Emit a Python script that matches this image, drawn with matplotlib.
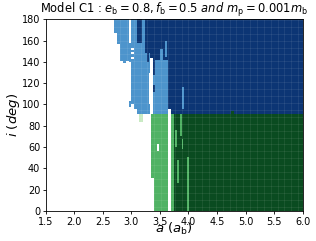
import numpy as np
import matplotlib
matplotlib.use('Agg')
import matplotlib.pyplot as plt
from matplotlib.colors import ListedColormap, BoundaryNorm

# stability map as (a_lo, a_hi, i_lo, i_hi) boxes
# codes: 0 unstable, 1 light blue, 2 dark blue, 3 light green, 4 dark green, 5 pale green
a_dark_blue = 3.38      # retrograde side is dark blue beyond this
a_dark_green = 3.70     # prograde side is dark green beyond this
i_split = 91.5

light_blue_cells = [
    (2.70, 2.95, 167, 180), (2.75, 2.95, 157, 167), (2.80, 2.95, 141, 157),
    (2.85, 2.90, 139, 141),
    (2.95, 3.00, 140, 158), (2.95, 3.00, 98, 103),
    (3.00, 3.33, 100, 180), (3.05, 3.33, 96, 100), (3.10, 3.33, 91.5, 96),
    (3.38, 3.64, 91.5, 128), (3.42, 3.64, 128, 142),
    (3.50, 3.55, 142, 152), (3.58, 3.63, 145, 160), (3.88, 3.92, 96, 116),
]
dark_blue_cells = [
    (3.10, 3.19, 158, 180), (3.23, 3.33, 148, 180), (3.33, 3.38, 144, 180),
    (3.27, 3.31, 140, 148), (3.38, 3.42, 112, 118),
]
white_cells = [
    (3.00, 3.05, 143, 145), (3.00, 3.05, 147.5, 149), (3.00, 3.05, 151.5, 153),
    (3.33, 3.38, 91.5, 144), (3.31, 3.33, 100, 130),
    (3.64, 3.70, 91.5, 96), (3.45, 3.49, 56, 63),
]
light_green_cells = [
    (3.35, 3.64, 31, 91.5), (3.40, 3.64, 0, 31), (3.70, 3.75, 0, 91.5),
    (3.77, 3.80, 60, 76), (3.80, 3.83, 26, 48), (3.86, 3.89, 70, 91),
    (3.88, 3.91, 58, 68), (3.97, 4.01, 0, 51),
]
pale_green_cells = [(3.14, 3.20, 84, 91)]
dark_green_cells = [(4.75, 4.80, 91.5, 94)]

colors = ['white', '#4d94cc', '#0c3574', '#50b264', '#0a4b20', '#c8eac2']

a_edges = np.arange(1.5, 6.0 + 1e-9, 0.01)
i_edges = np.arange(0, 181, 1.0)
a_mid = 0.5 * (a_edges[1:] + a_edges[:-1])
i_mid = 0.5 * (i_edges[1:] + i_edges[:-1])
A, I = np.meshgrid(a_mid, i_mid)

grid = np.zeros(A.shape)
grid[(A >= a_dark_blue) & (I >= i_split)] = 2
grid[(A >= a_dark_green) & (I < i_split)] = 4


def paint(cells, code):
    for a0, a1, i0, i1 in cells:
        grid[(A >= a0) & (A < a1) & (I >= i0) & (I < i1)] = code


paint(light_blue_cells, 1)
paint(dark_blue_cells, 2)
paint(light_green_cells, 3)
paint(pale_green_cells, 5)
paint(white_cells, 0)
paint(dark_green_cells, 4)

fig = plt.figure(figsize=(3.16, 2.41), dpi=100)
ax = fig.add_axes([0.1446, 0.1245, 0.8134, 0.7955])
cmap = ListedColormap(colors)
norm = BoundaryNorm(np.arange(-0.5, 6.5, 1), cmap.N)
ax.pcolormesh(a_edges, i_edges, grid, cmap=cmap, norm=norm)

# faint seams of the original coarse mesh
ax.vlines(np.arange(1.6, 6.0, 0.12), 0, 180, colors='white', alpha=0.1, linewidth=0.5)
ax.hlines(np.arange(4, 180, 6.5), 1.5, 6.0, colors='white', alpha=0.1, linewidth=0.5)

ax.set_xlim(1.5, 6.0)
ax.set_ylim(0, 180)
ax.set_xticks(np.arange(1.5, 6.01, 0.5))
ax.set_yticks(np.arange(0, 181, 20))
ax.tick_params(labelsize=7, length=2.5, width=0.6, pad=1.5)
for s in ax.spines.values():
    s.set_linewidth(0.6)

ax.set_xlabel(r'$a\ (a_{\rm b})$', fontsize=9.5, labelpad=-4)
ax.set_ylabel(r'$i\ (deg)$', fontsize=9.5, labelpad=0)
ax.set_title(r'Model C1 : $e_{\rm b}=0.8, f_{\rm b}=0.5\ and\ m_{\rm p}=0.001m_{\rm b}$',
             fontsize=8.3, pad=2.5)

fig.savefig('out.png', dpi=100)
